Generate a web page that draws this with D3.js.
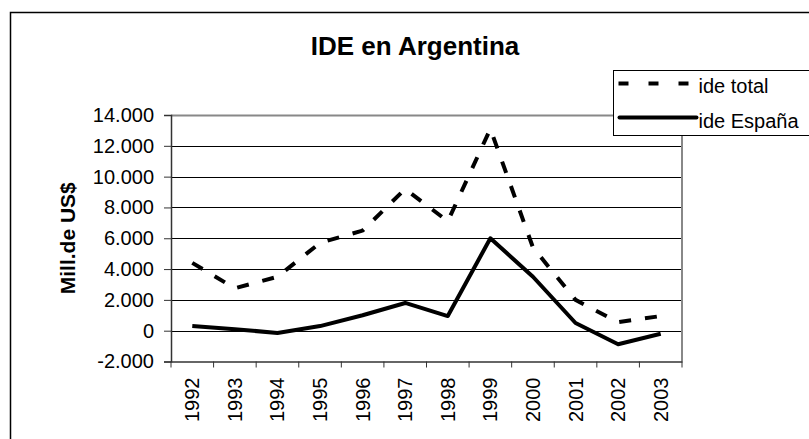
<!DOCTYPE html>
<html lang="es">
<head>
<meta charset="utf-8">
<style>
  body { margin: 0; background: white; }
  svg { font-family: 'Liberation Sans', Arial, sans-serif; }
  .grid line { stroke: #000; stroke-width: 1; }
  .axis text { font-size: 20px; fill: #000; }
</style>
</head>
<body>
<svg width="809" height="439"></svg>
<script src="https://d3js.org/d3.v7.min.js"></script>
<script>
// data
const years = ["1992","1993","1994","1995","1996","1997","1998","1999","2000","2001","2002","2003"]
const ideTotal = [4400, 2750, 3500, 5700, 6500, 9200, 7100, 13100, 5400, 2000, 550, 950]
const ideEspana = [300, 100, -150, 300, 1000, 1800, 950, 6000, 3500, 500, -880, -200]
const yTicks = [-2000, 0, 2000, 4000, 6000, 8000, 10000, 12000, 14000]

const svg = d3.select("svg")
const margin = { left: 171, right: 682, top: 115, bottom: 361.5 }

const x = d3.scaleBand().domain(years).range([margin.left, margin.right])
const y = d3.scaleLinear().domain([-2000, 14000]).range([margin.bottom, margin.top])
// spanish style thousands, plain hyphen for negatives
const fmt = d => d3.format(",")(d).replace(/,/g, ".").replace("\u2212", "-")

// outer frame
svg.append("rect")
  .attr("x", 10.5).attr("y", 12.5)
  .attr("width", 900).attr("height", 500)
  .attr("fill", "white").attr("stroke", "#000").attr("stroke-width", 1.5)

// title
svg.append("text")
  .attr("x", 415).attr("y", 55)
  .attr("text-anchor", "middle")
  .style("font-size", "26px").style("font-weight", "bold")
  .text("IDE en Argentina")

// gridlines
svg.append("g").attr("class", "grid")
  .selectAll("line").data(yTicks.filter(d => d > -2000 && d < 14000))
  .join("line")
  .attr("x1", margin.left).attr("x2", margin.right)
  .attr("y1", d => Math.round(y(d)) + 0.5).attr("y2", d => Math.round(y(d)) + 0.5)

// plot border (top and right, grey)
svg.append("path")
  .attr("d", `M${margin.left},${Math.round(y(14000)) + 0.5}H${margin.right}V${margin.bottom}`)
  .attr("fill", "none").attr("stroke", "#888").attr("stroke-width", 2)

// y axis
const yAxis = d3.axisLeft(y).tickValues(yTicks).tickFormat(fmt).tickSize(7).tickPadding(10)
const gy = svg.append("g").attr("class", "axis")
  .attr("transform", `translate(${margin.left},0)`)
  .call(yAxis)
gy.select(".domain").attr("stroke", "#333").attr("stroke-width", 1.5)
gy.selectAll(".tick line").attr("stroke", "#333")

// x axis
const xAxis = d3.axisBottom(x).tickSize(0).tickPadding(0)
const gx = svg.append("g").attr("class", "axis")
  .attr("transform", `translate(0,${margin.bottom})`)
  .call(xAxis)
gx.select(".domain").attr("stroke", "#333").attr("stroke-width", 1.5)
gx.selectAll(".tick text")
  .attr("transform", "rotate(-90)")
  .attr("text-anchor", "end")
  .attr("x", -16).attr("y", 0).attr("dy", "0.35em")
// tick marks on category boundaries
gx.selectAll("line.boundary")
  .data(years.map((d, i) => i).concat([years.length]))
  .join("line").attr("class", "boundary")
  .attr("x1", i => margin.left + i * x.step()).attr("x2", i => margin.left + i * x.step())
  .attr("y1", 0).attr("y2", 6)
  .attr("stroke", "#333")

// y axis title
svg.append("text")
  .attr("transform", `translate(75,${(margin.top + margin.bottom) / 2}) rotate(-90)`)
  .attr("text-anchor", "middle")
  .style("font-size", "21px").style("font-weight", "bold")
  .text("Mill.de US$")

// lines
const line = d3.line()
  .x((d, i) => x(years[i]) + x.bandwidth() / 2)
  .y(d => y(d))

svg.append("path")
  .datum(ideTotal)
  .attr("d", line)
  .attr("fill", "none").attr("stroke", "#000").attr("stroke-width", 4)
  .attr("stroke-dasharray", "12,14")

svg.append("path")
  .datum(ideEspana)
  .attr("d", line)
  .attr("fill", "none").attr("stroke", "#000").attr("stroke-width", 4)
  .attr("stroke-linejoin", "round")

// legend
const legend = svg.append("g").attr("transform", "translate(613.5,70.5)")
legend.append("rect")
  .attr("width", 250).attr("height", 65)
  .attr("fill", "white").attr("stroke", "#000")
legend.append("line")
  .attr("x1", 5).attr("x2", 78).attr("y1", 13).attr("y2", 13)
  .attr("stroke", "#000").attr("stroke-width", 4)
  .attr("stroke-dasharray", "10,20")
legend.append("text").attr("x", 85).attr("y", 22)
  .style("font-size", "20px").text("ide total")
legend.append("line")
  .attr("x1", 6).attr("x2", 83).attr("y1", 47).attr("y2", 47)
  .attr("stroke", "#000").attr("stroke-width", 4).attr("stroke-linecap", "round")
legend.append("text").attr("x", 85).attr("y", 57)
  .style("font-size", "20px").text("ide España")
</script>
</body>
</html>
